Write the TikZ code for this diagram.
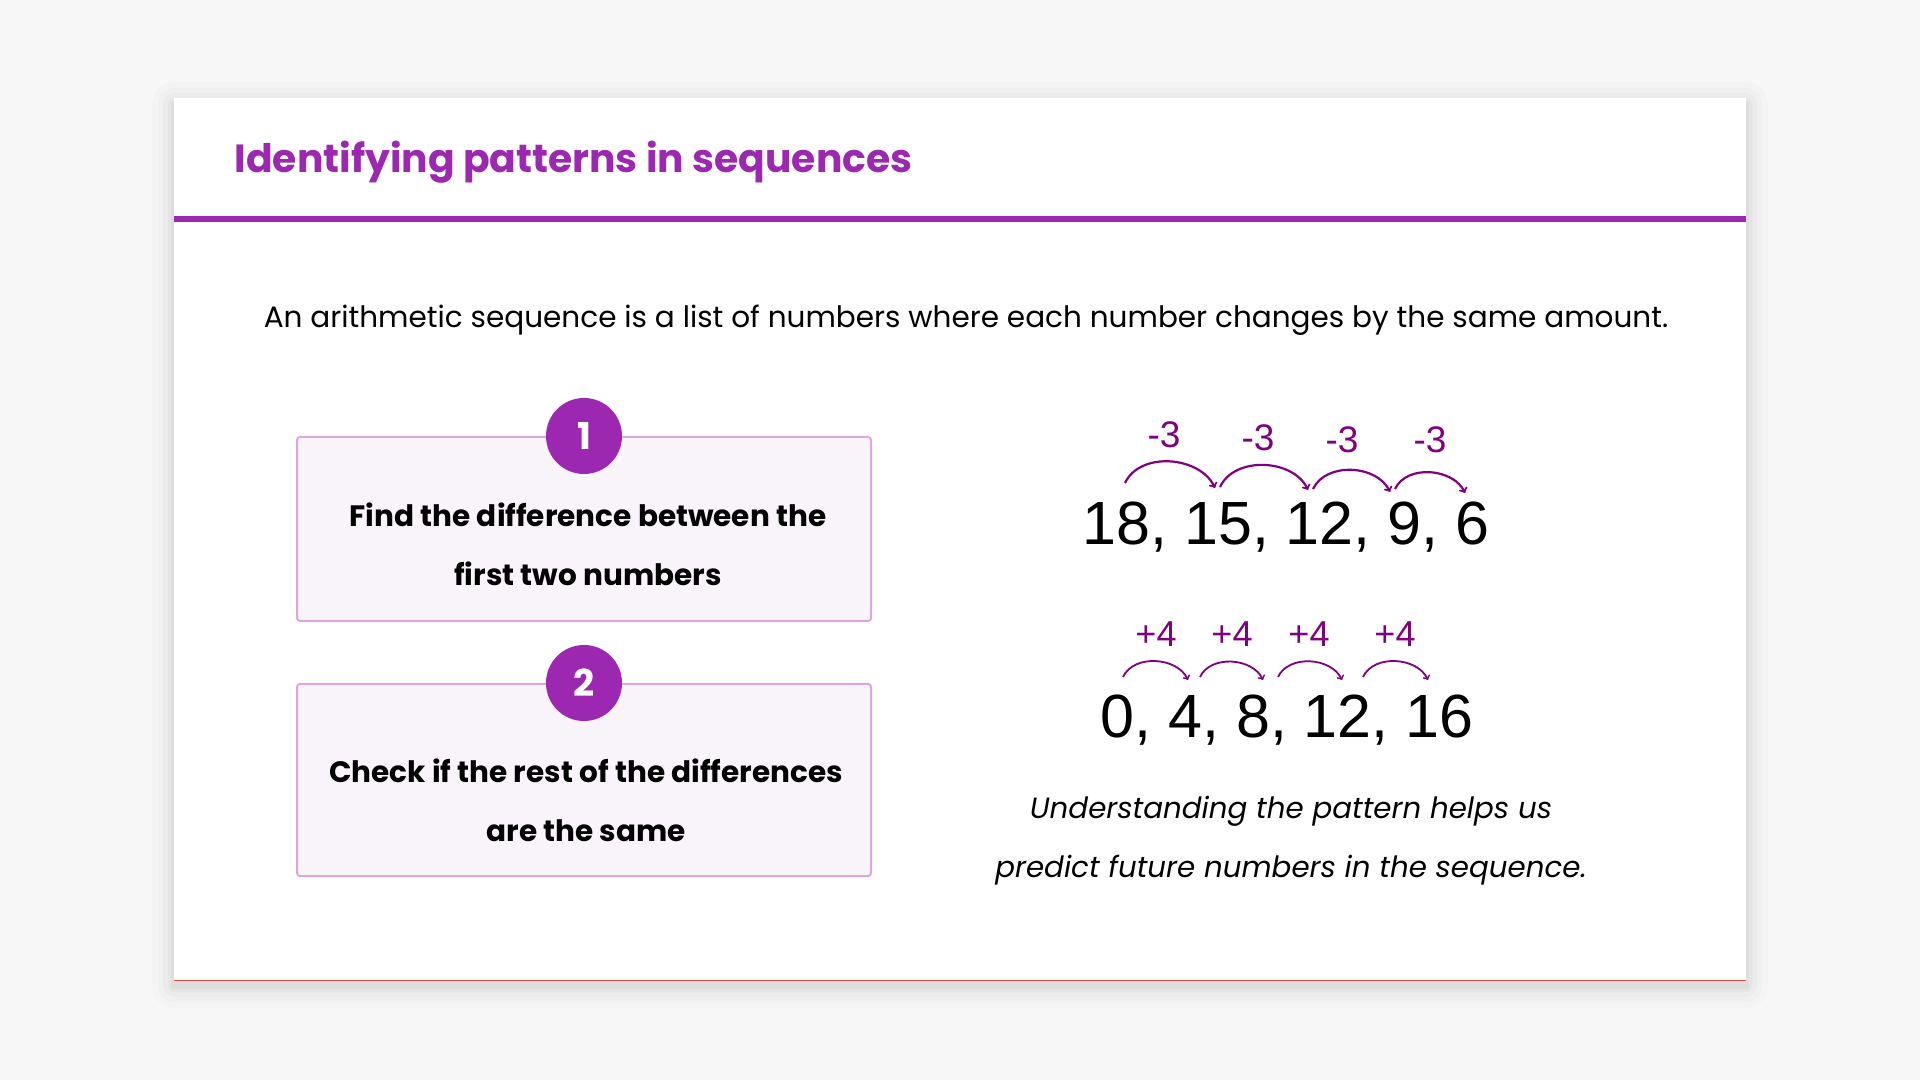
\documentclass[tikz,border=0pt]{standalone}
\usepackage{fontspec}
\setmainfont{Poppins}
\newfontfamily\numfont{Liberation Sans}
\usetikzlibrary{arrows}
\usetikzlibrary{positioning}

\definecolor{pagebg}{HTML}{F7F7F7}
\definecolor{accent}{HTML}{9C27B0}
\definecolor{arcpurple}{HTML}{800080}
\definecolor{boxfill}{HTML}{F9F3FA}
\definecolor{boxline}{HTML}{DCA6E0}
\definecolor{edgered}{HTML}{E0463C}

\begin{document}
\begin{tikzpicture}[x=1pt, y=1pt,
    stepbox/.style={draw=boxline, line width=2pt, fill=boxfill, rounded corners=3pt,
        minimum width=574pt, inner sep=0pt},
    stepnum/.style={circle, fill=accent, minimum size=76pt, inner sep=0pt, text=white,
        font=\fontsize{37}{37}\selectfont\bfseries},
    steptext/.style={align=center, font=\fontsize{29.5}{59}\selectfont\bfseries},
    seq/.style={anchor=base, font=\numfont\fontsize{61}{61}\selectfont},
    diff/.style={anchor=base, text=arcpurple, font=\numfont\fontsize{37}{37}\selectfont},
    jump/.style={arcpurple, line width=2.2pt, ->, out=65, in=115}]

    % page and card
    \fill[pagebg] (0,0) rectangle (1920,1080);
    \foreach \s/\o in {22/0.012, 16/0.016, 11/0.02, 6/0.025, 3/0.03}
        \fill[black, opacity=\o, rounded corners=\s pt] (174-\s,99-\s-5) rectangle (1746+\s,982+\s-6);
    \fill[white] (174,99) rectangle (1746,982);
    \draw[edgered, line width=1.5pt] (174,99.75) -- (1746,99.75);

    % header
    \node[anchor=west, text=accent, font=\fontsize{39.3}{40}\selectfont\bfseries] (title) at (231,918)
        {Identifying patterns in sequences};
    \draw[accent, line width=6pt] (174,860.5) -- (1746,860.5);
    \node[font=\fontsize{29.5}{30}\selectfont] (intro) at (966,760)
        {An arithmetic sequence is a list of numbers where each number changes by the same amount.};

    % steps
    \node[stepbox, minimum height=184pt] (box1) at (584,551) {};
    \node[stepnum] (num1) at (box1.north) {1};
    \node[steptext] (text1) at (588,536) {Find the difference between the\\first two numbers};

    \node[stepbox, minimum height=192pt] (box2) at (584,300) {};
    \node[stepnum] (num2) at (box2.north) {2};
    \node[steptext] (text2) at (586,280) {Check if the rest of the differences\\are the same};

    % decreasing sequence
    \node[seq] (seqdown) at (1286,535) {18, 15, 12, 9, 6};
    \foreach \i/\xa/\ya/\xb/\yb in {1/1125/597/1215/592, 2/1220/593/1308/590,
                                    3/1313/591/1390/588, 4/1395/591/1465/587} {
        \coordinate (down\i a) at (\xa,\ya);
        \coordinate (down\i b) at (\xb,\yb);
        \draw[jump] (down\i a) to (down\i b);
    }
    \foreach \i/\x/\y in {1/1164/632, 2/1258/629, 3/1342/627, 4/1430/627}
        \node[diff] (minus\i) at (\x,\y) {-3};

    % increasing sequence
    \node[seq] (sequp) at (1287,342) {0, 4, 8, 12, 16};
    \foreach \i/\xa/\xb in {1/1123/1188, 2/1200/1263, 3/1278/1342, 4/1363/1428} {
        \coordinate (up\i a) at (\xa,403);
        \coordinate (up\i b) at (\xb,400);
        \draw[jump, line width=1.8pt] (up\i a) to (up\i b);
    }
    \foreach \i/\x in {1/1156, 2/1232, 3/1309, 4/1395}
        \node[diff, font=\numfont\fontsize{36}{36}\selectfont] (plus\i) at (\x,433) {+4};

    % note
    \node[align=center, font=\fontsize{29.3}{59}\selectfont\itshape] (note) at (1291,239.5)
        {Understanding the pattern helps us\\predict future numbers in the sequence.};
\end{tikzpicture}
\end{document}
